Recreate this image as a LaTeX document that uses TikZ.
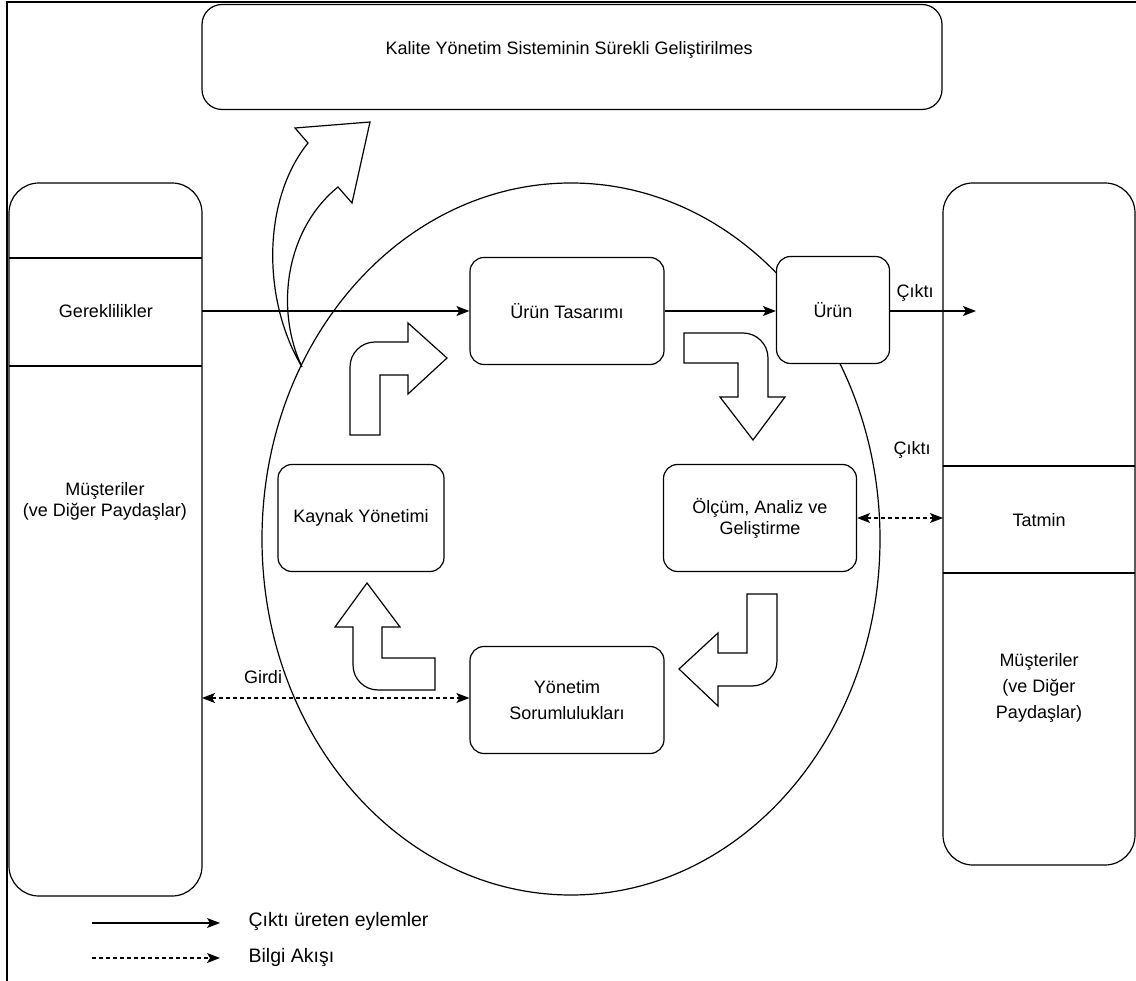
\documentclass[tikz,border=0pt]{standalone}
\usepackage{fontspec}
\setmainfont{Liberation Sans}
\usetikzlibrary{arrows.meta}
\begin{document}
\begin{tikzpicture}[x=1pt,y=-1pt,
  line width=1.2pt,
  txt/.style={font=\fontsize{18}{21}\selectfont, align=center},
  box/.style={draw, rounded corners=14pt, fill=white, inner sep=0pt, txt},
  col/.style={draw, rounded corners=30pt},
  flow/.style={-{Stealth[length=13pt,width=10pt,inset=3pt]}},
  info/.style={dash pattern=on 4pt off 3pt, {Stealth[length=13pt,width=10pt,inset=3pt]}-{Stealth[length=13pt,width=10pt,inset=3pt]}},
  blockarrow/.style={draw, line width=1.2pt, line join=miter},
  lbl/.style={txt, inner sep=1pt}]
\useasboundingbox (0,0) rectangle (1136,981);

% outer frame
\draw[line width=1.8pt] (7,981) -- (7,2) -- (1136,2);

% continual improvement banner
\node[box, rounded corners=20pt, minimum width=740pt, minimum height=105pt] (kys) at (572,57) {};
\begin{scope}
  \clip (380,30) rectangle (755,75);
  \node[txt, anchor=west, inner sep=0pt] (kystxt) at (385,50) {Kalite Yönetim Sisteminin Sürekli Geliştirilmes};
\end{scope}

% customer columns
\draw[col] (9,183) rectangle (202,896);
\draw (9,258) -- (202,258);
\draw (9,366) -- (202,366);
\node[lbl] (gerek) at (106,311) {Gereklilikler};
\node[lbl] (musL) at (105,501) {Müşteriler\\(ve Diğer Paydaşlar)};
\coordinate (gerekE) at (202,311);
\coordinate (girdiW) at (202,698);

\draw[col] (943,183) rectangle (1135,865);
\draw (943,466) -- (1135,466);
\draw (943,573) -- (1135,573);
\node[lbl] (tatmin) at (1039,520) {Tatmin};
\node[lbl, font=\fontsize{18}{26}\selectfont] (musR) at (1039,688) {Müşteriler\\(ve Diğer\\Paydaşlar)};
\coordinate (tatminW) at (943,518);
\coordinate (out) at (976,311);

% process cycle
\draw (571,539) ellipse [x radius=309, y radius=356];

\node[box, minimum width=194pt, minimum height=107pt] (tasarim) at (567,311) {Ürün Tasarımı};
\node[box, minimum width=113pt, minimum height=107pt] (urun) at (833,310) {Ürün};
\node[box, minimum width=166pt, minimum height=107pt] (kaynak) at (361,518) {Kaynak Yönetimi};
\node[box, minimum width=193pt, minimum height=107pt] (olcum) at (760,518) {Ölçüm, Analiz ve\\Geliştirme};
\node[box, minimum width=194pt, minimum height=107pt, font=\fontsize{18}{26}\selectfont] (yonetim) at (567,700) {Yönetim\\Sorumlulukları};

% output flows
\draw[flow] (gerekE) -- (tasarim.west |- gerekE);
\draw[flow] (tasarim.east |- gerekE) -- (urun.west |- gerekE);
\draw[flow] (urun.east |- gerekE) -- (out);
\node[lbl] (cikti1) at (915,293) {Çıktı};
\node[lbl] (cikti2) at (912,450) {Çıktı};

% information flows
\draw[info] (olcum.east |- tatminW) -- (tatminW);
\draw[info] (girdiW) -- (yonetim.west |- girdiW);
\node[lbl] (girdi) at (263,677) {Girdi};

% cycle block arrows
\draw[blockarrow] (350,435) -- (380,435) -- (380,375) -- (408,375) -- (408,394) -- (447,358) -- (408,323) -- (408,342) -- (375,342) .. controls (361.2,342) and (350,353.2) .. (350,367) -- cycle;
\draw[blockarrow] (684,333) -- (743,333) .. controls (756.8,333) and (768,344.2) .. (768,358) -- (768,397) -- (785,397) -- (753,440) -- (720,397) -- (738,397) -- (738,363) -- (684,363) -- cycle;
\draw[blockarrow] (747,594) -- (777,594) -- (777,661) .. controls (777,674.8) and (765.8,686) .. (752,686) -- (718,686) -- (718,706) -- (679,669) -- (718,633) -- (718,653) -- (747,653) -- cycle;
\draw[blockarrow] (435,690) -- (378,690) .. controls (364.2,690) and (353,678.8) .. (353,665) -- (353,627) -- (335,627) -- (367,583) -- (400,627) -- (382,627) -- (382,658) -- (435,658) -- cycle;

% curved arrow towards the improvement banner
\draw[blockarrow] (302,367) .. controls (262,300) and (262,200) .. (308,143) -- (295,128) -- (370,122) -- (352,203) -- (338,187) .. controls (285,230) and (275,310) .. cycle;

% legend
\coordinate (l1a) at (92,923);
\coordinate (l1b) at (220,923);
\coordinate (l2a) at (92,958);
\coordinate (l2b) at (220,958);
\draw[flow] (l1a) -- (l1b);
\draw[dash pattern=on 4pt off 3pt, flow] (l2a) -- (l2b);
\node[txt, font=\fontsize{19.5}{23}\selectfont, anchor=west, inner sep=0pt] (leg1) at (248,921) {Çıktı üreten eylemler};
\node[txt, font=\fontsize{19.5}{23}\selectfont, anchor=west, inner sep=0pt] (leg2) at (248,957) {Bilgi Akışı};
\end{tikzpicture}
\end{document}
